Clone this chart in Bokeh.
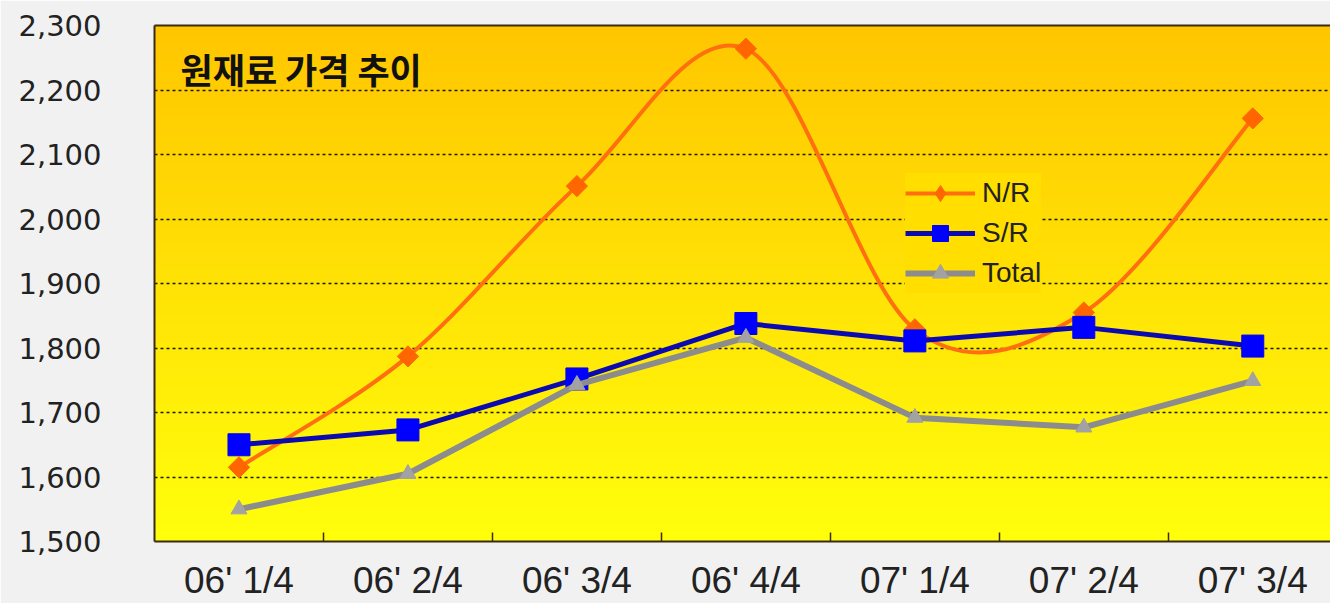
import numpy as np
from bokeh.plotting import figure
from bokeh.models import (FixedTicker, NumeralTickFormatter, Legend, LegendItem,
                          Label, LinearAxis, Range1d)
from bokeh.embed import file_html
from bokeh.resources import INLINE

# ---------------- data ----------------
categories = ["06' 1/4", "06' 2/4", "06' 3/4", "06' 4/4", "07' 1/4", "07' 2/4", "07' 3/4"]
nr_values = [1615, 1787, 2051, 2264, 1829, 1855, 2156]
sr_values = [1650, 1673, 1752, 1838, 1811, 1832, 1803]
total_values = [1550, 1605, 1743, 1816, 1692, 1677, 1749]
y_ticks = [1500, 1600, 1700, 1800, 1900, 2000, 2100, 2200, 2300]
series_names = ["N/R", "S/R", "Total"]
chart_title = "원재료 가격 추이"

xs = list(range(1, len(categories) + 1))
boundaries = [x + 0.5 for x in xs[:-1]]

BROWN = "#3b2a14"

p = figure(width=1330, height=603,
           x_range=Range1d(0.5, 7.46), y_range=Range1d(1500, 2300),
           output_backend="svg", toolbar_location=None,
           min_border_left=154, min_border_right=0,
           min_border_top=25, min_border_bottom=61)
p.outline_line_color = None
p.border_fill_color = "#F1F1F1"
p.background_fill_color = "#FFE000"

# gradient background (orange top -> yellow bottom)
n = 256
t = np.linspace(0, 1, n)
img = np.zeros((n, 1), dtype=np.uint32)
view = img.view(dtype=np.uint8).reshape((n, 1, 4))
view[:, 0, 0] = 255
view[:, 0, 1] = (255 - 57 * t).astype(np.uint8)
view[:, 0, 2] = (12 * (1 - t)).astype(np.uint8)
view[:, 0, 3] = 255
p.image_rgba(image=[img], x=0.5, y=1500, dw=7.5, dh=800, level="image")

# grid
p.xgrid.visible = False
p.ygrid.grid_line_color = "#1a1a1a"
p.ygrid.grid_line_dash = "3 3"
p.ygrid.grid_line_width = 1.5

# x axis
xa = p.xaxis[0]
xa.ticker = FixedTicker(ticks=xs, minor_ticks=boundaries)
xa.major_label_overrides = {x: c for x, c in zip(xs, categories)}
xa.major_tick_line_color = None
xa.minor_tick_in = 9
xa.minor_tick_out = 0
xa.minor_tick_line_color = BROWN
xa.minor_tick_line_width = 1.5
xa.axis_line_color = BROWN
xa.axis_line_width = 2
xa.major_label_standoff = 12
xa.major_label_text_font = "Liberation Sans"
xa.major_label_text_font_size = "37px"
xa.major_label_text_color = "#222222"

# y axis
ya = p.yaxis[0]
ya.ticker = FixedTicker(ticks=y_ticks)
ya.formatter = NumeralTickFormatter(format="0,0")
ya.major_tick_line_color = None
ya.minor_tick_line_color = None
ya.axis_line_color = BROWN
ya.axis_line_width = 2
ya.major_label_standoff = 47
ya.major_label_text_font = "DejaVu Sans"
ya.major_label_text_font_size = "29px"
ya.major_label_text_color = "#222222"

# top border
top = LinearAxis(ticker=FixedTicker(ticks=[]), axis_line_color=BROWN, axis_line_width=2,
                 major_tick_line_color=None, minor_tick_line_color=None,
                 major_label_text_font_size="0px")
p.add_layout(top, "above")

# N/R smooth (Catmull-Rom -> Bezier)
def bezier_segments(x, y):
    P = list(zip(x, y))
    m = len(P)
    d = dict(x0=[], y0=[], x1=[], y1=[], cx0=[], cy0=[], cx1=[], cy1=[])
    for i in range(m - 1):
        p0 = P[i - 1] if i > 0 else P[i]
        p1 = P[i]
        p2 = P[i + 1]
        p3 = P[i + 2] if i + 2 < m else P[i + 1]
        d["x0"].append(p1[0]); d["y0"].append(p1[1])
        d["x1"].append(p2[0]); d["y1"].append(p2[1])
        d["cx0"].append(p1[0] + (p2[0] - p0[0]) / 6)
        d["cy0"].append(p1[1] + (p2[1] - p0[1]) / 6)
        d["cx1"].append(p2[0] - (p3[0] - p1[0]) / 6)
        d["cy1"].append(p2[1] - (p3[1] - p1[1]) / 6)
    return d

ORANGE_L, ORANGE_M = "#FF6F10", "#FF6600"
BLUE_L, BLUE_M = "#0A0AB0", "#0000FF"
GRAY_L, GRAY_M = "#8C8C8C", "#A2A2A2"

p.bezier(source=bezier_segments(xs, nr_values), x0="x0", y0="y0", x1="x1", y1="y1",
         cx0="cx0", cy0="cy0", cx1="cx1", cy1="cy1",
         line_color=ORANGE_L, line_width=4, line_cap="round")
p.scatter(xs, nr_values, marker="square", angle=np.pi / 4, size=15,
          fill_color=ORANGE_M, line_color=ORANGE_M)

p.line(xs, sr_values, line_color=BLUE_L, line_width=5)
p.scatter(xs, sr_values, marker="square", size=22, fill_color=BLUE_M, line_color=BLUE_M)

p.line(xs, total_values, line_color=GRAY_L, line_width=6)
p.scatter(xs, total_values, marker="triangle", size=16, fill_color=GRAY_M, line_color=GRAY_M)

# title inside plot
p.add_layout(Label(x=0.654, y=2234, text=chart_title, text_font="Noto Sans CJK KR",
                   text_font_style="bold", text_font_size="35px", text_color="#111111",
                   text_baseline="middle"))

# legend (dedicated legend glyphs, placed outside the visible range)
items = []
specs = [(ORANGE_L, 4, "diamond", 17, ORANGE_M),
         (BLUE_L, 5, "square", 16, BLUE_M),
         (GRAY_L, 6, "triangle", 12, GRAY_M)]
for name, (lc, lw, mk, ms, mc) in zip(series_names, specs):
    rl = p.line(x=[-10, -9], y=[0, 0], line_color=lc, line_width=lw)
    rm = p.scatter(x=[-10], y=[0], marker=mk, size=ms, fill_color=mc, line_color=mc)
    items.append(LegendItem(label=name, renderers=[rl, rm]))

legend = Legend(items=items, location=(751, 248), glyph_width=70, glyph_height=40,
                label_height=40, spacing=0, padding=10, margin=0, label_standoff=7,
                label_text_font="Liberation Sans", label_text_font_size="28px",
                label_text_color="#222222", border_line_color=None,
                background_fill_color="#FFDE00", background_fill_alpha=1.0)
p.add_layout(legend)

open("out.html", "w").write(file_html(p, INLINE))
